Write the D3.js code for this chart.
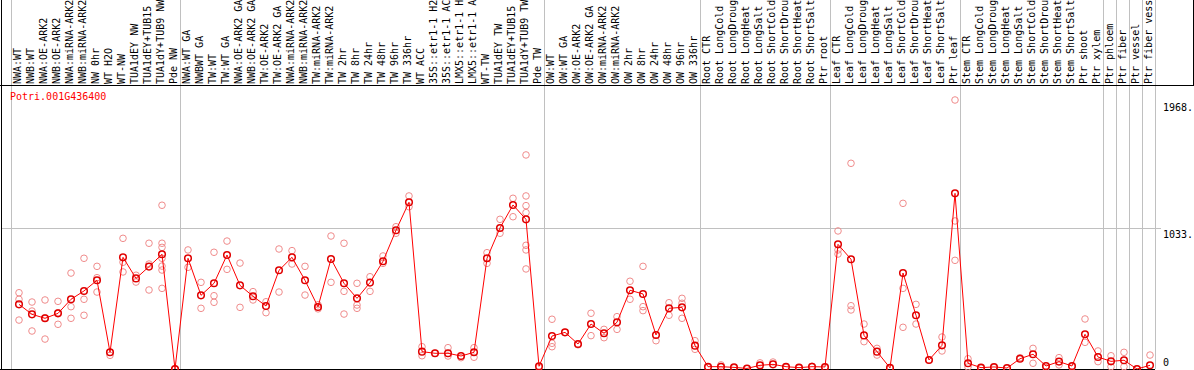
<!DOCTYPE html>
<html>
<head>
<meta charset="utf-8">
<script src="https://cdn.jsdelivr.net/npm/d3@7"></script>
<style>
  body { margin: 0; background: #fff; }
  svg { display: block; }
  text { font-family: "DejaVu Sans Mono", monospace; font-size: 10px; }
</style>
</head>
<body>
<div id="chart"></div>
<script>
var gene = 'Potri.001G436400';

// column labels as the picture shows them (long ones are cut at 14 characters)
var labels = [
  'NWA:WT', 'NWB:WT', 'NWA:OE-ARK2', 'NWB:OE-ARK2', 'NWA:miRNA-ARK2', 'NWB:miRNA-ARK2', 'NW 0hr', 'WT H2O', 'WT-NW',
  'TUA1dEY NW', 'TUA1dEY+TUB15', 'TUA1dY+TUB9 NW', 'Pde NW',
  'NWA:WT GA', 'NWBWT GA', 'TW:WT', 'TW:WT GA', 'NWA:OE-ARK2 GA', 'NWB:OE-ARK2 GA', 'TW:OE-ARK2', 'TW:OE-ARK2 GA',
  'NWA:miRNA-ARK2', 'NWB:miRNA-ARK2', 'TW:miRNA-ARK2', 'TW:miRNA-ARK2', 'TW 2hr', 'TW 8hr', 'TW 24hr', 'TW 48hr',
  'TW 96hr', 'TW 336hr', 'WT ACC', '35S::etr1-1 H2', '35S::etr1-1 AC', 'LMX5::etr1-1 H', 'LMX5::etr1-1 A',
  'WT-TW', 'TUA1dEY TW', 'TUA1dEY+TUB15', 'TUA1dY+TUB9 TW', 'Pde TW',
  'OW:WT', 'OW:WT GA', 'OW:OE-ARK2', 'OW:OE-ARK2 GA', 'OW:miRNA-ARK2', 'OW:miRNA-ARK2', 'OW 2hr', 'OW 8hr',
  'OW 24hr', 'OW 48hr', 'OW 96hr', 'OW 336hr',
  'Root CTR', 'Root LongCold', 'Root LongDroug', 'Root LongHeat', 'Root LongSalt', 'Root ShortCold',
  'Root ShortDrou', 'Root ShortHeat', 'Root ShortSalt', 'Ptr root',
  'Leaf CTR', 'Leaf LongCold', 'Leaf LongDroug', 'Leaf LongHeat', 'Leaf LongSalt', 'Leaf ShortCold',
  'Leaf ShortDrou', 'Leaf ShortHeat', 'Leaf ShortSalt', 'Ptr leaf',
  'Stem CTR', 'Stem LongCold', 'Stem LongDroug', 'Stem LongHeat', 'Stem LongSalt', 'Stem ShortCold',
  'Stem ShortDrou', 'Stem ShortHeat', 'Stem ShortSalt', 'Ptr shoot', 'Ptr xylem',
  'Ptr phloem', 'Ptr fiber', 'Ptr vessel', 'Ptr fiber vess'
];

// number of columns in each boxed group
var groupSizes = [13, 28, 12, 10, 10, 11, 1, 1, 1, 1];

var means = [
  473, 400, 371, 407, 510, 571, 649, 122, 817, 663, 749, 839, 0,
  810, 539, 627, 834, 612, 532, 461, 722, 817, 649, 454, 805, 627, 517, 632, 788,
  1015, 1220, 127, 115, 115, 95, 122, 810, 1032, 1200, 1095, 20,
  241, 268, 183, 329, 261, 342, 576, 549, 249, 444, 451, 171,
  17, 17, 12, 4, 27, 34, 17, 10, 17, 15,
  912, 803, 246, 127, 8, 702, 393, 66, 173, 1285,
  42, 10, 15, 7, 75, 108, 22, 54, 22, 254, 88,
  56, 64, 0, 27
];

var replicates = [
  [558, 510, 358], [490, 424, 278], [505, 375, 219], [495, 412, 327], [702, 456, 371], [810, 510, 393],
  [751, 668, 563], [122, 100], [956, 781, 710], [686, 636], [920, 768, 578],
  [1198, 920, 890, 810, 753, 724, 590], [0],
  [871, 744], [634, 444], [854, 536, 488], [936, 729], [775, 451], [566, 505], [492, 412], [878, 563],
  [866, 768], [751, 541], [470, 440], [973, 634], [920, 568, 402], [627, 468, 444], [675, 568], [827, 773],
  [1041, 993], [1266, 1187], [163, 97], [115], [156, 95], [83], [156, 86], [851, 773], [1095, 993],
  [1249, 1114], [1566, 1266, 1195, 1144, 905, 871, 732], [10],
  [364, 188, 163], [268], [177], [408, 244], [290, 229], [383, 290], [642, 510], [751, 456, 427],
  [207], [485, 393], [517, 481, 371], [207, 144],
  [10], [30], [8], [2], [45], [51], [10], [5], [20], [8],
  [1010, 871, 841], [1505, 463, 432], [329, 200], [151, 102], [5], [1212, 590, 305], [473, 329],
  [66], [234, 132], [1968, 1083, 795],
  [75, 15], [5], [10], [5], [83], [151, 42], [10], [83, 30], [15], [366, 195], [132, 54],
  [97, 17], [122, 17], [0], [102]
];

var tickValues = [0, 1033, 1968];
var tickLabels = ['0', '1033.', '1968.'];
var gridValues = [1033];

var width = 1194,
  height = 370;

var headerBottom = 85,
  plotBottom = 369;

var svg = d3.select('#chart')
  .append('svg')
  .attr('width', width)
  .attr('height', height);

var xScale = d3.scaleBand()
  .domain(d3.range(labels.length))
  .range([11, 1155]);

var pointX = function(i) {
  return xScale(i) + 8;
};

var yScale = d3.scaleLinear()
  .domain([0, 1968])
  .range([plotBottom, 100]);

// group separator positions
var bounds = [0];
groupSizes.forEach(function(n) {
  bounds.push(bounds[bounds.length - 1] + n);
});

var boundX = function(d) {
  return (d < labels.length ? xScale(d) : xScale.range()[1]) + 0.5;
};

svg.append('g')
  .selectAll('line')
  .data(bounds)
  .enter()
  .append('line')
  .attr('x1', boundX)
  .attr('x2', boundX)
  .attr('y1', 0)
  .attr('y2', plotBottom)
  .attr('stroke', '#c0c0c0');

// horizontal reference line
svg.append('g')
  .selectAll('line')
  .data(gridValues)
  .enter()
  .append('line')
  .attr('x1', 1)
  .attr('x2', 1161)
  .attr('y1', function(d) { return Math.round(yScale(d)) + 0.5; })
  .attr('y2', function(d) { return Math.round(yScale(d)) + 0.5; })
  .attr('stroke', '#c0c0c0');

// frame lines
svg.append('line').attr('x1', 1.5).attr('x2', 1.5).attr('y1', 0).attr('y2', plotBottom + 1).attr('stroke', '#000');
svg.append('line').attr('x1', 0).attr('x2', 1194).attr('y1', headerBottom + 0.5).attr('y2', headerBottom + 0.5).attr('stroke', '#000');
svg.append('line').attr('x1', 1193.5).attr('x2', 1193.5).attr('y1', 0).attr('y2', headerBottom).attr('stroke', '#000');
svg.append('line').attr('x1', 0).attr('x2', 1155).attr('y1', plotBottom + 0.5).attr('y2', plotBottom + 0.5).attr('stroke', '#000');

// column labels
svg.append('g')
  .selectAll('text')
  .data(labels)
  .enter()
  .append('text')
  .attr('transform', function(d, i) {
    return 'translate(' + (pointX(i) + 1.5) + ',' + (headerBottom - 1) + ') rotate(-90)';
  })
  .attr('fill', '#000')
  .text(function(d) { return d; });

// right axis
var yAxis = svg.append('g')
  .attr('transform', 'translate(1160,0)')
  .call(d3.axisRight(yScale)
    .tickValues(tickValues)
    .tickSize(0)
    .tickPadding(3)
    .tickFormat(function(d, i) { return tickLabels[i]; }));

yAxis.select('.domain').remove();
yAxis.selectAll('text')
  .attr('font-family', '"DejaVu Sans Mono", monospace')
  .attr('font-size', 10)
  .attr('fill', '#000')
  .attr('dy', function(d) { return d === 0 ? -4 : 10; });

// gene name
svg.append('text')
  .attr('x', 10)
  .attr('y', 100)
  .attr('fill', '#ff0000')
  .text(gene);

// replicate points
var reps = [];
replicates.forEach(function(vals, i) {
  vals.forEach(function(v) {
    reps.push({ i: i, v: v });
  });
});

svg.append('g')
  .selectAll('circle')
  .data(reps)
  .enter()
  .append('circle')
  .attr('cx', function(d) { return pointX(d.i); })
  .attr('cy', function(d) { return yScale(d.v); })
  .attr('r', 3.3)
  .attr('fill', 'none')
  .attr('stroke', '#f08c8c')
  .attr('stroke-width', 1);

// mean line
var line = d3.line()
  .x(function(d, i) { return pointX(i); })
  .y(function(d) { return yScale(d); });

svg.append('path')
  .datum(means)
  .attr('d', line)
  .attr('fill', 'none')
  .attr('stroke', '#ff0000')
  .attr('stroke-width', 1);

svg.append('g')
  .selectAll('circle')
  .data(means)
  .enter()
  .append('circle')
  .attr('cx', function(d, i) { return pointX(i); })
  .attr('cy', function(d) { return yScale(d); })
  .attr('r', 3.3)
  .attr('fill', 'none')
  .attr('stroke', '#e00000')
  .attr('stroke-width', 1.5);
</script>
</body>
</html>
